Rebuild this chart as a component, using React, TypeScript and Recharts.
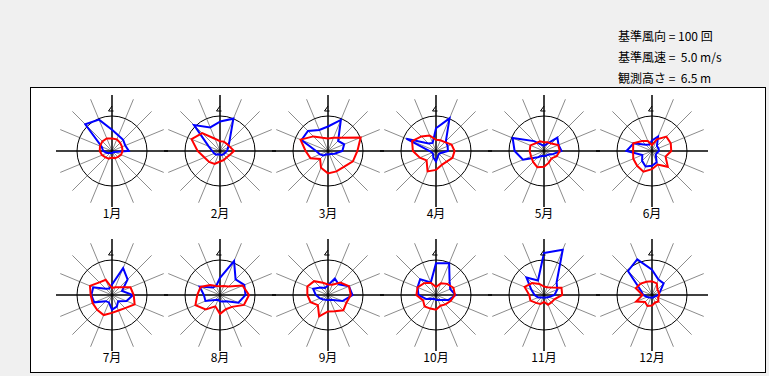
import React from "react";
import { PolarAngleAxis, PolarGrid, PolarRadiusAxis, Radar, RadarChart } from "recharts";

// 16 directions, clockwise from north
const directions = ["N", "NNE", "NE", "ENE", "E", "ESE", "SE", "SSE", "S", "SSW", "SW", "WSW", "W", "WNW", "NW", "NNW"];
const months = ["1月", "2月", "3月", "4月", "5月", "6月", "7月", "8月", "9月", "10月", "11月", "12月"];

const refCount = 100; // 基準風向 = 100 回
const refSpeed = 5.0; // 基準風速 = 5.0 m/s
const height = 6.5; // 観測高さ

// wind direction frequency (回)
const freqJan = [61, 48, 45, 41, 48, 8, 5, 6, 6, 6, 8, 15, 25, 32, 108, 97];
const freqFeb = [84, 100, 38, 25, 20, 15, 14, 12, 10, 10, 15, 18, 22, 35, 105, 73];
const freqMar = [70, 96, 41, 50, 41, 20, 12, 10, 10, 10, 18, 25, 34, 82, 81, 65];
const freqApr = [65, 101, 40, 36, 34, 15, 12, 15, 30, 20, 12, 12, 18, 92, 30, 25];
const freqMay = [15, 22, 54, 45, 50, 25, 15, 15, 15, 15, 25, 65, 84, 97, 40, 20];
const freqJun = [30, 45, 20, 20, 20, 15, 15, 35, 42, 48, 40, 30, 73, 57, 25, 20];
const freqJul = [30, 83, 63, 31, 60, 45, 25, 36, 42, 23, 25, 55, 59, 58, 25, 20];
const freqAug = [49, 105, 63, 75, 73, 57, 25, 20, 18, 15, 20, 45, 46, 63, 30, 28];
const freqSep = [28, 51, 43, 65, 70, 45, 20, 15, 15, 15, 18, 25, 35, 46, 30, 22];
const freqOct = [91, 98, 55, 44, 56, 38, 20, 15, 14, 12, 15, 30, 50, 57, 64, 39];
const freqNov = [120, 140, 51, 41, 30, 15, 10, 8, 8, 8, 10, 18, 27, 39, 71, 45];
const freqDec = [72, 48, 47, 25, 18, 10, 8, 8, 8, 8, 10, 15, 25, 35, 97, 110];

// mean wind speed (m/s)
const speedJan = [1.8, 1.8, 1.65, 1.55, 1.5, 1.4, 1.2, 1.1, 0.95, 1.2, 1.3, 1.55, 1.75, 1.85, 1.95, 1.95];
const speedFeb = [1.4, 1.45, 1.4, 1.55, 2.0, 1.5, 1.3, 1.4, 1.5, 2.0, 2.2, 2.4, 3.2, 4.4, 3.6, 1.9];
const speedMar = [1.8, 2.05, 2.7, 5.05, 4.2, 3.85, 3.2, 3.15, 3.2, 2.6, 1.6, 2.7, 3.2, 4.25, 2.95, 2.05];
const speedApr = [1.6, 1.65, 1.8, 2.4, 2.65, 2.55, 2.15, 2.15, 2.7, 3.15, 1.9, 2.5, 3.3, 3.7, 2.95, 2.4];
const speedMay = [1.25, 1.35, 1.5, 2.2, 2.25, 1.95, 1.5, 1.8, 2.25, 2.5, 2.2, 2.0, 2.05, 2.1, 1.6, 1.5];
const speedJun = [0.85, 1.8, 2.9, 2.9, 2.75, 2.1, 3.2, 2.1, 2.6, 3.2, 3.0, 2.9, 2.7, 2.9, 2.0, 1.55];
const speedJul = [1.0, 1.2, 1.55, 2.85, 3.1, 3.5, 2.65, 2.4, 2.55, 3.1, 3.0, 3.0, 3.05, 3.4, 2.55, 2.35];
const speedAug = [1.25, 1.4, 1.7, 3.5, 4.15, 3.7, 2.4, 2.2, 2.7, 1.75, 2.9, 3.8, 3.25, 3.0, 2.0, 1.4];
const speedSep = [1.5, 1.6, 2.5, 3.25, 3.25, 2.85, 3.1, 2.5, 2.35, 3.3, 2.05, 2.7, 2.95, 3.2, 2.8, 1.9];
const speedOct = [1.15, 1.8, 2.25, 2.7, 2.7, 2.25, 1.9, 1.65, 2.1, 2.1, 2.3, 2.0, 2.8, 2.85, 2.4, 1.9];
const speedNov = [1.2, 1.2, 1.5, 2.7, 2.6, 1.6, 1.5, 1.5, 1.0, 1.4, 1.6, 2.1, 2.1, 3.0, 2.4, 1.7];
const speedDec = [1.95, 1.8, 1.1, 1.05, 1.05, 0.95, 1.3, 1.15, 1.5, 1.7, 1.4, 2.45, 1.35, 2.5, 2.3, 2.05];

const freqByMonth = [freqJan, freqFeb, freqMar, freqApr, freqMay, freqJun, freqJul, freqAug, freqSep, freqOct, freqNov, freqDec];
const speedByMonth = [speedJan, speedFeb, speedMar, speedApr, speedMay, speedJun, speedJul, speedAug, speedSep, speedOct, speedNov, speedDec];

const SIZE = 120;
const C = SIZE / 2;
const CIRCLE_R = 35; // reference circle (100 回 / 5.0 m/s)
const AXIS_MAX = 160;
const OUTER_R = (CIRCLE_R * AXIS_MAX) / refCount;
const SPOKE_R = 50;

const colX = [112, 220, 328, 436, 544, 652];
const rowY = [151, 295];

const diagAngles = directions.map((_, i) => 90 - i * 22.5).filter((_, i) => i % 4 !== 0);
const mainAngles = [90, 0, -90, -180];

const NorthFlag = (props: any) => {
    if (props.index !== 0) return <g />;
    const x = props.cx ?? C;
    const y = (props.cy ?? C) - 45;
    return <path d={`M${x},${y} L${x - 3.5},${y + 5} L${x + 1.5},${y + 5}`} stroke="#000" fill="none" />;
};

const Rose = ({ m }: { m: number }) => {
    // speed is drawn on the same radius scale: refSpeed sits on the refCount circle
    const rows = directions.map((d, i) => ({
        dir: d,
        freq: freqByMonth[m][i],
        speed: (speedByMonth[m][i] / refSpeed) * refCount,
    }));
    return (
        <RadarChart width={SIZE} height={SIZE} data={rows} cx={C} cy={C} outerRadius={OUTER_R} margin={{ top: 0, right: 0, bottom: 0, left: 0 }}>
            <PolarGrid gridType="circle" polarAngles={diagAngles} polarRadius={[1.5]} outerRadius={SPOKE_R - 2} stroke="#8c8c8c" />
            <PolarGrid gridType="circle" polarAngles={mainAngles} polarRadius={[]} outerRadius={SPOKE_R} stroke="#000" strokeWidth={1.5} />
            <PolarGrid gridType="circle" polarAngles={[]} radialLines={false} polarRadius={[CIRCLE_R]} stroke="#000" />
            <PolarAngleAxis dataKey="dir" axisLine={false} tickLine={false} tick={NorthFlag} />
            <PolarRadiusAxis domain={[0, AXIS_MAX]} tickCount={5} tick={false} axisLine={false} />
            <Radar dataKey="freq" stroke="#0000ff" strokeWidth={2} fill="none" fillOpacity={0} isAnimationActive={false} />
            <Radar dataKey="speed" stroke="#ff0000" strokeWidth={2} fill="none" fillOpacity={0} isAnimationActive={false} />
        </RadarChart>
    );
};

const refLines = [
    `基準風向 = ${refCount} 回`,
    `基準風速 =  ${refSpeed.toFixed(1)} m/s`,
    `観測高さ =  ${height.toFixed(1)} m`,
];

export default function App() {
    return (
        <div
            style={{
                position: "absolute",
                left: 0,
                top: 0,
                width: 769,
                height: 376,
                background: "#f0f0f0",
                overflow: "hidden",
                fontFamily: "'Noto Sans CJK JP', sans-serif",
                color: "#000",
            }}
        >
            <div style={{ position: "absolute", left: 618, top: 25, fontSize: 12, lineHeight: "21px", whiteSpace: "pre" }}>
                {refLines.map((t) => (
                    <div key={t}>{t}</div>
                ))}
            </div>
            <div
                style={{
                    position: "absolute",
                    left: 30,
                    top: 87,
                    width: 736,
                    height: 286,
                    background: "#fff",
                    border: "1px solid #000",
                    boxSizing: "border-box",
                }}
            />
            {months.map((label, i) => {
                const cx = colX[i % 6];
                const cy = rowY[Math.floor(i / 6)];
                return (
                    <React.Fragment key={label}>
                        <div style={{ position: "absolute", left: cx - C, top: cy - C, width: SIZE, height: SIZE }}>
                            <Rose m={i} />
                        </div>
                        <div
                            style={{
                                position: "absolute",
                                left: cx - 30,
                                top: cy + 53,
                                width: 60,
                                textAlign: "center",
                                fontSize: 12,
                                lineHeight: "18px",
                            }}
                        >
                            {label}
                        </div>
                    </React.Fragment>
                );
            })}
        </div>
    );
}
